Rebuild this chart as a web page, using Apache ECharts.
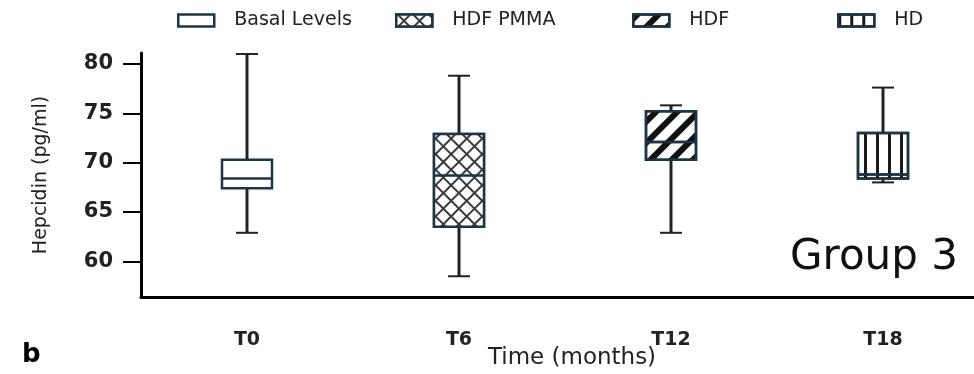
<!DOCTYPE html>
<html>
<head>
<meta charset="utf-8">
<script src="https://cdn.jsdelivr.net/npm/echarts@6/dist/echarts.min.js"></script>
<style>
html, body { margin: 0; padding: 0; background: #fff; }
#main { width: 974px; height: 374px; }
</style>
</head>
<body>
<div id="main"></div>
<script>
// 数据
const categories = ['T0', 'T6', 'T12', 'T18'];
const seriesNames = ['Basal Levels', 'HDF PMMA', 'HDF', 'HD'];
// [min, Q1, median, Q3, max]
const basalLevels = [62.9, 67.4, 68.4, 70.3, 81.0];
const hdfPmma = [58.5, 63.5, 68.7, 72.9, 78.8];
const hdf = [62.9, 70.3, 72.1, 75.2, 75.8];
const hd = [68.0, 68.4, 68.8, 73.0, 77.6];
const yTicks = [60, 65, 70, 75, 80];

const boxes = [basalLevels, hdfPmma, hdf, hd];
const font = 'DejaVu Sans';
const boxColor = '#1d3545';

// 图案
const decals = [
    null,
    { symbol: 'rect', symbolSize: 1, color: '#fff', backgroundColor: '#3a3a3a', dashArrayX: [9, 2], dashArrayY: [9, 2], rotation: Math.PI / 4 },
    { symbol: 'rect', symbolSize: 1, color: '#111', dashArrayX: [1, 0], dashArrayY: [6, 9], rotation: -Math.PI / 4 },
    { symbol: 'rect', symbolSize: 1, color: '#1a1a1a', dashArrayX: [3, 9], dashArrayY: [1, 0], rotation: 0 }
];
const legendLeft = [177, 395, 632, 837];

const myChart = echarts.init(document.getElementById('main'));

const xAxes = categories.map((c, i) => ({
    type: 'category',
    data: categories,
    show: i === 0,
    position: 'bottom',
    axisLine: { lineStyle: { color: '#000', width: 3 } },
    axisTick: { show: false },
    axisLabel: { margin: 34, fontSize: 19, fontWeight: 'bold', fontFamily: font, color: '#222' },
    name: i === 0 ? 'Time (months)' : '',
    nameLocation: 'middle',
    nameGap: 50,
    nameMoveOverlap: false,
    nameTextStyle: { fontSize: 23, fontFamily: font, color: '#222', padding: [0, 0, 0, 14] }
}));

const boxSeries = boxes.map((b, i) => ({
    name: seriesNames[i],
    type: 'boxplot',
    xAxisIndex: i,
    boxWidth: [50, 50],
    encode: { x: 0, y: [1, 2, 3, 4, 5] },
    data: [[i, b[1], b[1], b[2], b[3], b[3]]],
    itemStyle: Object.assign({ color: '#fff', borderColor: boxColor, borderWidth: 2.5 }, decals[i] ? { decal: decals[i] } : {}),
    z: 3
}));

// 须线
const whiskerSeries = {
    type: 'custom',
    xAxisIndex: 0,
    z: 2,
    data: boxes.map((b, i) => [i, b[0], b[1], b[3], b[4]]),
    renderItem: function (params, api) {
        const x = api.value(0);
        const pMin = api.coord([x, api.value(1)]);
        const pQ1 = api.coord([x, api.value(2)]);
        const pQ3 = api.coord([x, api.value(3)]);
        const pMax = api.coord([x, api.value(4)]);
        const half = 11;
        const st = { stroke: '#222', lineWidth: 3 };
        const cap = { stroke: '#222', lineWidth: 2 };
        return {
            type: 'group',
            children: [
                { type: 'line', shape: { x1: pMax[0], y1: pMax[1], x2: pQ3[0], y2: pQ3[1] }, style: st },
                { type: 'line', shape: { x1: pMin[0], y1: pMin[1], x2: pQ1[0], y2: pQ1[1] }, style: st },
                { type: 'line', shape: { x1: pMax[0] - half, y1: pMax[1], x2: pMax[0] + half, y2: pMax[1] }, style: cap },
                { type: 'line', shape: { x1: pMin[0] - half, y1: pMin[1], x2: pMin[0] + half, y2: pMin[1] }, style: cap }
            ]
        };
    }
};

const option = {
    animation: false,
    backgroundColor: '#fff',
    grid: { left: 141, right: -15, top: 53, bottom: 77, containLabel: false, outerBoundsMode: 'none' },
    legend: seriesNames.map((n, i) => ({
        data: [n],
        left: legendLeft[i],
        top: 11,
        padding: 0,
        itemWidth: 36,
        itemHeight: 12,
        icon: 'rect',
        itemStyle: { color: '#fff', borderColor: boxColor, borderWidth: 2.5 },
        textStyle: { fontSize: 19, fontFamily: font, color: '#222', padding: [0, 0, 0, 15] }
    })),
    xAxis: xAxes,
    yAxis: {
        type: 'value',
        min: 56.4,
        max: 81.1,
        splitLine: { show: false },
        axisLine: { show: true, lineStyle: { color: '#000', width: 3 } },
        axisTick: { show: true, length: 18, customValues: yTicks, lineStyle: { color: '#000', width: 2 } },
        axisLabel: { customValues: yTicks, margin: 28, fontSize: 21, fontWeight: 'bold', fontFamily: font, color: '#222' },
        name: 'Hepcidin (pg/ml)',
        nameLocation: 'middle',
        nameGap: 90,
        nameMoveOverlap: false,
        nameTextStyle: { fontSize: 19, fontFamily: font, color: '#222' }
    },
    graphic: [
        { type: 'text', left: 790, top: 237, style: { text: 'Group 3', font: '42px "DejaVu Sans"', fill: '#111' } },
        { type: 'text', left: 22, top: 342, style: { text: 'b', font: 'bold 26px "DejaVu Sans"', fill: '#000' } }
    ],
    series: boxSeries.concat([whiskerSeries])
};
myChart.setOption(option);
</script>
</body>
</html>
